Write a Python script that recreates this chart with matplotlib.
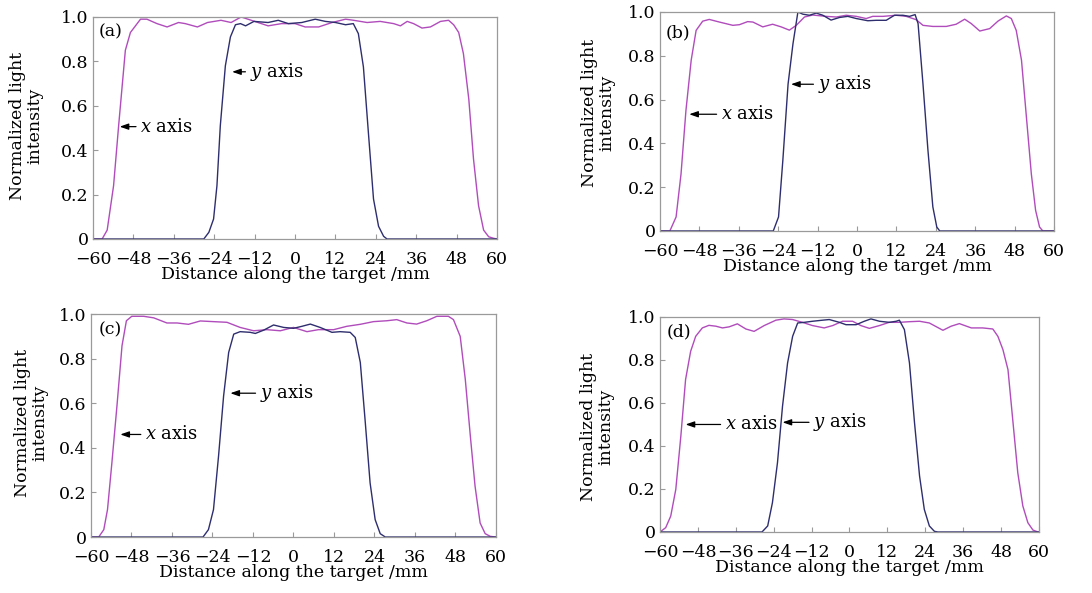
import numpy as np
import matplotlib
matplotlib.use("Agg")
import matplotlib.pyplot as plt

plt.rcParams["font.family"] = "DejaVu Serif"
plt.rcParams["mathtext.fontset"] = "dejavuserif"

# ---- data: (position mm, normalized intensity) ----
a_xaxis = [(-60, 0), (-57.3, 0), (-55.8, 0.04), (-53.9, 0.24), (-52.4, 0.51), (-50.4, 0.85),
           (-48.9, 0.93), (-45.9, 0.99), (-44, 0.99), (-41, 0.97), (-38, 0.955), (-34.6, 0.975),
           (-32.6, 0.97), (-29, 0.955), (-26, 0.975), (-22, 0.985), (-19, 0.975), (-16, 1.0),
           (-13, 0.985), (-8, 0.96), (-4, 0.97), (0, 0.97), (3, 0.955), (7, 0.955), (11, 0.975),
           (15, 0.99), (17.4, 0.985), (21.4, 0.975), (25.3, 0.98), (29.3, 0.97), (31.3, 0.96),
           (33.3, 0.98), (35.2, 0.97), (37.7, 0.95), (40.2, 0.955), (43.2, 0.98), (45.6, 0.985),
           (47.1, 0.965), (48.6, 0.93), (50, 0.835), (51.6, 0.63), (53, 0.36), (54.5, 0.15),
           (56, 0.04), (57.5, 0.01), (59, 0.003), (60, 0)]
a_yaxis = [(-60, 0), (-27.1, 0), (-25.6, 0.03), (-24.2, 0.09), (-23.2, 0.24), (-22.2, 0.51),
           (-20.7, 0.78), (-19.2, 0.91), (-17.7, 0.965), (-16.2, 0.97), (-14.7, 0.96),
           (-12.2, 0.98), (-8, 0.975), (-5, 0.985), (-2, 0.97), (2, 0.975), (6, 0.99), (9, 0.98),
           (12, 0.975), (15, 0.965), (17.3, 0.97), (18.8, 0.925), (20.3, 0.775), (21.8, 0.475),
           (23.3, 0.18), (24.8, 0.057), (26.3, 0.012), (27.3, 0), (60, 0)]

b_xaxis = [(-60, 0), (-57, 0), (-55.1, 0.064), (-53.6, 0.26), (-52.1, 0.55), (-50.5, 0.78),
           (-49, 0.916), (-47, 0.958), (-45, 0.966), (-41.9, 0.954), (-37.8, 0.939),
           (-35.8, 0.942), (-33.3, 0.956), (-31.7, 0.954), (-28.7, 0.932), (-25.7, 0.944),
           (-23.1, 0.932), (-20.6, 0.917), (-18.5, 0.939), (-16, 0.977), (-13.5, 0.986),
           (-9.4, 0.98), (-6.3, 0.977), (-3.3, 0.985), (-0.2, 0.98), (2.8, 0.97), (4.8, 0.98),
           (7.9, 0.98), (11.9, 0.985), (15, 0.98), (18, 0.965), (20.1, 0.939), (23.1, 0.934),
           (27.2, 0.934), (30.2, 0.944), (32.8, 0.967), (34.8, 0.947), (37.4, 0.913),
           (40.4, 0.924), (43, 0.959), (45.5, 0.982), (47, 0.97), (48.5, 0.916), (50.1, 0.78),
           (51.6, 0.52), (53.1, 0.26), (54.4, 0.094), (55.6, 0.018), (56.6, 0), (60, 0)]
b_yaxis = [(-60, 0), (-25.5, 0), (-23.9, 0.064), (-22.6, 0.32), (-21, 0.67), (-19.5, 0.855),
           (-18, 1.0), (-16.5, 0.99), (-14.5, 0.985), (-12.4, 0.995), (-10.4, 0.985),
           (-7.9, 0.963), (-5.3, 0.975), (-2.8, 0.98), (-0.2, 0.97), (3.3, 0.96), (5.85, 0.962),
           (8.9, 0.962), (11.4, 0.985), (14, 0.985), (16, 0.98), (17.7, 0.988), (18.6, 0.947),
           (20.1, 0.67), (21.6, 0.37), (23.1, 0.11), (24.3, 0.018), (25.2, 0), (60, 0)]

c_xaxis = [(-60, 0), (-57.7, 0), (-56.2, 0.033), (-55.1, 0.123), (-53.8, 0.333), (-52.3, 0.588),
           (-50.8, 0.858), (-49.5, 0.97), (-47.9, 0.99), (-44.4, 0.99), (-41.4, 0.983),
           (-37.5, 0.96), (-34.5, 0.96), (-31.1, 0.954), (-27.6, 0.969), (-23.7, 0.966),
           (-19.7, 0.963), (-15.8, 0.94), (-11.8, 0.925), (-7.9, 0.93), (-3.9, 0.925), (0, 0.94),
           (4, 0.921), (7.4, 0.93), (11.9, 0.93), (15.8, 0.945), (19.8, 0.954), (23.7, 0.966),
           (27.7, 0.97), (30.6, 0.975), (33.6, 0.96), (36.5, 0.955), (39.5, 0.97), (42.5, 0.99),
           (45.9, 0.99), (47.4, 0.975), (49.4, 0.9), (50.9, 0.708), (52.4, 0.453), (53.8, 0.228),
           (55.3, 0.063), (56.8, 0.015), (58.3, 0.003), (60, 0)]
c_yaxis = [(-60, 0), (-26.8, 0), (-25.2, 0.033), (-23.7, 0.123), (-22.2, 0.363), (-20.7, 0.633),
           (-19.2, 0.828), (-17.7, 0.91), (-15.8, 0.921), (-12.8, 0.918), (-11.3, 0.913),
           (-8.8, 0.928), (-5.9, 0.951), (-2.9, 0.94), (0, 0.936), (2.5, 0.945), (5, 0.955),
           (7.9, 0.94), (11.4, 0.918), (13.8, 0.921), (16.8, 0.918), (18.3, 0.895), (19.8, 0.783),
           (21.2, 0.528), (22.7, 0.243), (24.2, 0.078), (25.7, 0.015), (27.2, 0), (60, 0)]

d_xaxis = [(-60, 0), (-58.2, 0.02), (-56.6, 0.074), (-55, 0.198), (-53.4, 0.446), (-51.9, 0.709),
           (-50.3, 0.84), (-48.7, 0.91), (-46.6, 0.949), (-44.5, 0.961), (-42.3, 0.957),
           (-40.2, 0.949), (-38.1, 0.954), (-35.5, 0.968), (-32.8, 0.944), (-30.2, 0.933),
           (-27, 0.96), (-23.3, 0.985), (-20.7, 0.991), (-18, 0.988), (-14.9, 0.975),
           (-11.7, 0.96), (-8, 0.949), (-5.3, 0.96), (-2.2, 0.98), (1, 0.98), (3.6, 0.96),
           (6.3, 0.947), (9.5, 0.96), (12.6, 0.975), (15.8, 0.975), (19, 0.978), (22.2, 0.98),
           (25.3, 0.972), (29.6, 0.938), (32.2, 0.957), (34.8, 0.969), (38.6, 0.949),
           (42.2, 0.949), (45.4, 0.944), (47, 0.91), (48.6, 0.848), (50.2, 0.755), (51.8, 0.508),
           (53.3, 0.276), (54.9, 0.121), (56.5, 0.043), (58.1, 0.009), (59.7, 0), (60, 0)]
d_yaxis = [(-60, 0), (-27.7, 0), (-25.9, 0.028), (-24.4, 0.136), (-22.8, 0.322), (-21.2, 0.585),
           (-19.6, 0.786), (-18, 0.91), (-16.4, 0.972), (-14.3, 0.975), (-11.7, 0.98),
           (-8.5, 0.985), (-6.4, 0.988), (-3.2, 0.975), (-1.1, 0.964), (2.1, 0.964), (4.7, 0.98),
           (6.8, 0.991), (9.5, 0.98), (12.6, 0.975), (14.8, 0.98), (15.8, 0.985), (17.4, 0.941),
           (19, 0.786), (20.6, 0.508), (22.2, 0.26), (23.7, 0.105), (25.3, 0.028), (26.9, 0.003),
           (28, 0), (60, 0)]

panel_tags = ["(a)", "(b)", "(c)", "(d)"]
x_ticks = [-60, -48, -36, -24, -12, 0, 12, 24, 36, 48, 60]
y_ticks = [0, 0.2, 0.4, 0.6, 0.8, 1.0]
y_ticklabels = ["0", "0.2", "0.4", "0.6", "0.8", "1.0"]

# ---- layout / style ----
MAG = "#b04cbb"
NAVY = "#2e2e6e"
GRID = "#9a9a9a"
FS = 12.5

# axes rectangles in figure fractions
rects = [(0.0852, 0.597, 0.370, 0.3744),
         (0.6044, 0.6105, 0.3608, 0.3693),
         (0.0833, 0.0944, 0.3709, 0.376),
         (0.6044, 0.1029, 0.3470, 0.3626)]
# where the arrow heads sit, and where the label text starts (data coords)
x_arrows = [((-52.1, 0.506), (-46.0, 0.506)),
            ((-51.1, 0.533), (-41.5, 0.533)),
            ((-51.3, 0.46), (-44.0, 0.46)),
            ((-51.9, 0.50), (-39.5, 0.50))]
y_arrows = [((-18.7, 0.753), (-13.5, 0.753)),
            ((-20.1, 0.67), (-12.0, 0.67)),
            ((-18.7, 0.645), (-10.0, 0.645)),
            ((-21.2, 0.51), (-11.5, 0.51))]
ylab_pos = [(-0.166, 0.51), (-0.157, 0.54), (-0.148, 0.51), (-0.166, 0.49)]
tag_pos = [(0.013, 0.97), (0.013, 0.945), (0.02, 0.965), (0.018, 0.97)]

data = [(a_xaxis, a_yaxis), (b_xaxis, b_yaxis), (c_xaxis, c_yaxis), (d_xaxis, d_yaxis)]

fig = plt.figure(figsize=(10.92, 5.93), dpi=100)

for i in range(4):
    ax = fig.add_axes(rects[i])
    xs, ys = data[i]
    px, py = np.array(xs).T
    qx, qy = np.array(ys).T
    ax.plot(px, py, color=MAG, lw=1.0)
    ax.plot(qx, qy, color=NAVY, lw=1.0)

    ax.set_xlim(-60, 60)
    ax.set_ylim(0, 1.0)
    ax.set_xticks(x_ticks)
    ax.set_yticks(y_ticks)
    ax.set_yticklabels(y_ticklabels)
    ax.tick_params(direction="in", length=3.5, width=0.8, color=GRID,
                   labelsize=FS, pad=3)
    ax.tick_params(axis="x", pad=8.5)
    for s in ax.spines.values():
        s.set_color(GRID)
        s.set_linewidth(0.9)

    ax.set_xlabel("Distance along the target /mm", fontsize=FS, labelpad=-1.5)
    ax.text(ylab_pos[i][0], ylab_pos[i][1], "Normalized light\nintensity",
            transform=ax.transAxes, rotation=90, ha="center", va="center",
            fontsize=FS, linespacing=1.0)
    ax.text(tag_pos[i][0], tag_pos[i][1], panel_tags[i], transform=ax.transAxes,
            ha="left", va="top", fontsize=FS)

    for (head, txt), lab in ((x_arrows[i], "$x$ axis"), (y_arrows[i], "$y$ axis")):
        ax.annotate(lab, xy=head, xytext=txt, ha="left", va="center", fontsize=13,
                    arrowprops=dict(arrowstyle="-|>,head_length=0.4,head_width=0.14",
                                    color="black", lw=0.9, shrinkA=1, shrinkB=0))

fig.savefig("out.png", dpi=100, facecolor="white")
